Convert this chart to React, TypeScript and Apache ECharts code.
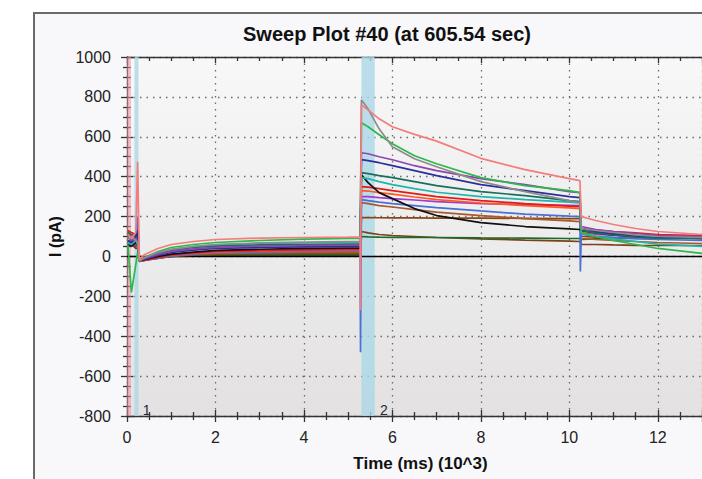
import React, { useEffect, useRef } from "react";
import * as echarts from "echarts";

// time (10^3 ms)
const T = [0.02, 0.1, 0.2, 0.24, 0.28, 0.4, 0.7, 1.0, 1.5, 2.0, 3.0, 4.0, 5.0, 5.27, 5.28, 5.3, 5.45, 5.7, 6.0, 6.5, 7.0, 8.0, 9.0, 10.0, 10.24, 10.25, 10.27, 10.6, 11.0, 11.5, 12.0, 13.0];

const salmon = [110, 90, 120, 475, -15, 10, 40, 60, 75, 85, 92, 95, 97, 98, -270, 760, 735, 690, 650, 612, 578, 492, 435, 390, 380, 380, 200, 180, 160, 140, 125, 110];
const gray = [90, 100, 80, 70, -20, -5, 20, 35, 50, 60, 68, 72, 75, 75, 75, 785, 740, 640, 550, 490, 450, 375, 325, 280, 270, 270, 140, 130, 120, 108, 100, 95];
const green = [60, -180, -40, 20, -25, -5, 25, 45, 60, 70, 80, 87, 90, 90, 90, 670, 650, 610, 565, 505, 465, 395, 355, 330, 320, 320, 120, 100, 80, 60, 40, 15];
const purple = [100, 80, 90, 80, -20, -10, 10, 25, 38, 45, 52, 55, 57, 57, 57, 520, 515, 500, 485, 455, 430, 390, 360, 325, 320, 320, 150, 135, 125, 115, 105, 100];
const navy = [80, 70, 100, 130, -20, -15, 5, 20, 32, 40, 45, 48, 50, 50, 50, 485, 480, 470, 455, 430, 405, 360, 330, 300, 295, 295, 140, 125, 115, 105, 100, 95];
const darkTeal = [120, 110, 100, 90, -15, -5, 15, 30, 45, 52, 58, 60, 62, 62, 62, 420, 415, 405, 395, 375, 355, 325, 305, 280, 275, 275, 130, 118, 108, 98, 92, 90];
const teal = [70, 60, 80, 60, -20, -5, 20, 35, 50, 58, 65, 68, 70, 70, 70, 395, 390, 375, 360, 340, 322, 300, 285, 272, 268, 268, 115, 100, 88, 75, 62, 50];
const black = [60, 50, 70, 60, -20, -15, 0, 12, 22, 30, 36, 40, 42, 42, 42, 410, 370, 320, 290, 240, 205, 170, 150, 138, 135, 135, 130, 118, 108, 100, 95, 90];
const red = [130, 120, 110, 100, -25, -20, -5, 8, 18, 25, 30, 33, 35, 35, 35, 350, 348, 340, 330, 315, 300, 280, 265, 252, 250, 250, 140, 132, 125, 118, 110, 105];
const orange = [90, 100, 80, 70, -20, -15, -3, 8, 16, 22, 28, 30, 32, 32, 32, 330, 328, 320, 312, 298, 285, 268, 255, 244, 240, 240, 125, 118, 110, 104, 100, 95];
const magenta = [70, 80, 60, 55, -20, -15, -2, 10, 18, 24, 28, 30, 30, 30, 30, 300, 300, 295, 290, 283, 275, 265, 260, 256, 255, 255, 120, 112, 105, 98, 94, 90];
const blue = [50, 60, 90, 200, -25, -20, -8, 3, 12, 18, 22, 25, 26, 26, -480, 285, 280, 272, 265, 255, 245, 228, 212, 202, 200, -75, 110, 102, 95, 89, 85, 80];
const brown = [80, 70, 60, 60, -20, -18, -8, 2, 10, 15, 18, 20, 20, 20, 20, 270, 265, 255, 248, 235, 222, 205, 190, 178, 175, 175, 90, 85, 80, 75, 70, 65];
const sienna = [60, 70, 50, 50, -20, -18, -10, 0, 6, 10, 13, 15, 15, 15, 15, 195, 195, 194, 193, 193, 192, 192, 191, 190, 190, 190, 100, 97, 95, 92, 90, 90];
const darkGreen = [110, 100, 110, 100, -15, -10, -5, 0, 2, 3, 5, 5, 5, 5, 5, 100, 98, 97, 96, 96, 95, 93, 92, 90, 90, 90, 85, 88, 90, 90, 92, 95];
const brown3 = [50, 60, 40, 40, -20, -15, -8, 0, 5, 8, 10, 10, 10, 10, 10, 125, 118, 110, 105, 100, 95, 88, 82, 77, 75, 75, 60, 60, 58, 56, 55, 55];

const traces: [string, number[], string][] = [
  ["brown3", brown3, "#7b3f1a"],
  ["darkGreen", darkGreen, "#1d6b2a"],
  ["sienna", sienna, "#8b4513"],
  ["brown", brown, "#a65a2e"],
  ["blue", blue, "#4a6fd6"],
  ["magenta", magenta, "#a23bd0"],
  ["orange", orange, "#ff5a1f"],
  ["red", red, "#e41a1c"],
  ["black", black, "#111111"],
  ["teal", teal, "#1fb5ab"],
  ["darkTeal", darkTeal, "#17705f"],
  ["navy", navy, "#2b2f9a"],
  ["purple", purple, "#8e44ad"],
  ["green", green, "#2db84a"],
  ["gray", gray, "#8c8c8c"],
  ["salmon", salmon, "#f47c7c"],
];

const xTickMin = 0;
const xTickMax = 13;
const xStep = 2;
const yMin = -800;
const yMax = 1000;
const yStep = 200;
const TITLE = "Sweep Plot #40 (at 605.54 sec)";
const X_NAME = "Time (ms) (10^3)";
const Y_NAME = "I (pA)";
// cursor bands (x range)
const pinkBand = [0, 0.09];
const band1 = [0.17, 0.26];
const band2 = [5.3, 5.6];

const FONT = "'Liberation Sans', Arial, sans-serif";

export default function App() {
  const ref = useRef<HTMLDivElement>(null);
  useEffect(() => {
    if (!ref.current) return;
    const chart = echarts.init(ref.current, undefined, { renderer: "svg" });
    const dotted = { color: "#6a6a6a", width: 1.3, type: [1.5, 5] as any };
    const axisLineStyle = { color: "#333", width: 1.3 };
    const baseX = {
      type: "value" as const,
      min: xTickMin,
      max: xTickMax,
      interval: xStep,
      gridIndex: 0,
    };
    const baseY = {
      type: "value" as const,
      min: yMin,
      max: yMax,
      interval: yStep,
      gridIndex: 0,
    };
    const plain = (v: number) => String(v);
    const series: any[] = traces.map(([name, vals, color], i) => ({
      name,
      type: "line",
      data: T.map((t, k) => [t, vals[k]]),
      showSymbol: false,
      symbol: "none",
      lineStyle: { color, width: 1.7 },
      z: 3 + i,
      silent: true,
    }));
    const cursorLabel = (text: string, dx: number) => ({
      show: true,
      formatter: text,
      position: "insideBottomRight",
      distance: 0,
      offset: [dx, 1],
      color: "#1f2a3a",
      fontSize: 14,
      fontFamily: FONT,
    });
    series.push({
      type: "line",
      data: [],
      z: 1,
      silent: true,
      markArea: {
        silent: true,
        data: [
          [
            { xAxis: pinkBand[0], itemStyle: { color: "rgba(240,150,165,0.55)" } },
            { xAxis: pinkBand[1] },
          ],
          [
            {
              xAxis: band1[0],
              itemStyle: { color: "rgba(170,215,230,0.8)" },
              label: cursorLabel("1", 12),
            },
            { xAxis: band1[1] },
          ],
          [
            {
              xAxis: band2[0],
              itemStyle: { color: "rgba(170,215,230,0.8)" },
              label: cursorLabel("2", 13),
            },
            { xAxis: band2[1] },
          ],
        ],
      },
    });
    series.push({
      type: "line",
      data: [],
      z: 30,
      silent: true,
      markLine: {
        silent: true,
        symbol: "none",
        label: { show: false },
        lineStyle: { color: "#000", width: 1.3, type: "solid" },
        data: [{ yAxis: 0 }],
      },
    });

    chart.setOption({
      animation: false,
      textStyle: { fontFamily: FONT },
      title: {
        text: TITLE,
        left: 238,
        top: 19,
        textStyle: { fontSize: 20, fontWeight: "bold", color: "#111", fontFamily: FONT },
      },
      grid: {
        left: 127,
        top: 57,
        width: 576,
        height: 359,
        show: true,
        borderWidth: 0,
        backgroundColor: new echarts.graphic.LinearGradient(0, 0, 0, 1, [
          { offset: 0, color: "#f8f8f8" },
          { offset: 1, color: "#e3e1e1" },
        ]),
      },
      xAxis: [
        {
          ...baseX,
          position: "bottom",
          name: X_NAME,
          nameLocation: "middle",
          nameGap: 39,
          nameTextStyle: { fontSize: 17, fontWeight: "bold", color: "#111", padding: [0, 0, 0, 12] },
          axisLine: { show: true, onZero: false, lineStyle: axisLineStyle },
          axisTick: { show: true, inside: false, length: 6, lineStyle: axisLineStyle },
          minorTick: { show: true, splitNumber: 4, length: 4, lineStyle: axisLineStyle },
          axisLabel: { fontSize: 16, color: "#222", margin: 13, showMaxLabel: false, formatter: plain },
          splitLine: { show: true, lineStyle: dotted },
        },
        {
          ...baseX,
          position: "bottom",
          axisLine: { show: false, onZero: false },
          axisTick: { show: true, inside: true, length: 6, lineStyle: axisLineStyle },
          minorTick: { show: true, splitNumber: 4, length: 4, lineStyle: axisLineStyle },
          axisLabel: { show: false },
          splitLine: { show: false },
        },
        {
          ...baseX,
          position: "top",
          axisLine: { show: true, onZero: false, lineStyle: axisLineStyle },
          axisTick: { show: true, inside: true, length: 6, lineStyle: axisLineStyle },
          minorTick: { show: true, splitNumber: 4, length: 4, lineStyle: axisLineStyle },
          axisLabel: { show: false },
          splitLine: { show: false },
        },
      ],
      yAxis: [
        {
          ...baseY,
          position: "left",
          name: Y_NAME,
          nameLocation: "middle",
          nameGap: 64,
          nameRotate: 90,
          nameTextStyle: { fontSize: 16, fontWeight: "bold", color: "#111" },
          axisLine: { show: true, onZero: false, lineStyle: axisLineStyle },
          axisTick: { show: true, inside: false, length: 6, lineStyle: axisLineStyle },
          minorTick: { show: true, splitNumber: 4, length: 4, lineStyle: axisLineStyle },
          axisLabel: { fontSize: 16, color: "#222", margin: 16, formatter: plain },
          splitLine: { show: true, lineStyle: dotted },
        },
        {
          ...baseY,
          position: "left",
          axisLine: { show: false, onZero: false },
          axisTick: { show: true, inside: true, length: 6, lineStyle: axisLineStyle },
          minorTick: { show: true, splitNumber: 4, length: 4, lineStyle: axisLineStyle },
          axisLabel: { show: false },
          splitLine: { show: false },
        },
      ],
      series,
    });
    return () => chart.dispose();
  }, []);

  return (
    <div
      style={{
        position: "fixed",
        left: 0,
        top: 0,
        width: 702,
        height: 479,
        background: "#ffffff",
        overflow: "hidden",
      }}
    >
      <div
        style={{
          position: "absolute",
          left: 33,
          top: 12,
          width: 700,
          height: 500,
          borderLeft: "2px solid #6a6a6a",
          borderTop: "2px solid #6a6a6a",
          background: "#f8f8fa",
        }}
      />
      <div ref={ref} style={{ position: "absolute", left: 0, top: 0, width: 702, height: 479 }} />
    </div>
  );
}
